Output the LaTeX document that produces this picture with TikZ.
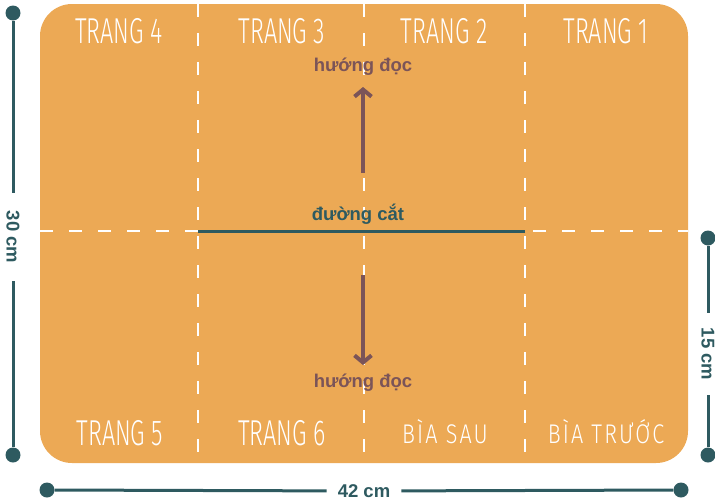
\documentclass[tikz,border=0pt]{standalone}
\usepackage{fontspec}
\setmainfont{Liberation Sans}
\newfontfamily\hand[FakeStretch=0.65, UprightFont={* Light}]{Fira Sans}
\newfontfamily\handw[FakeStretch=0.8, LetterSpace=8, UprightFont={* Light}]{Fira Sans}
\usetikzlibrary{arrows.meta}
\definecolor{paper}{HTML}{ECA955}
\definecolor{dimc}{HTML}{2E5A60}
\definecolor{mauve}{HTML}{7B5458}
\begin{document}
\begin{tikzpicture}[x=1pt,y=-1pt,
  fold/.style={white, line width=2.6pt, dash pattern=on 13pt off 16pt},
  cutline/.style={dimc, line width=3pt},
  readarrow/.style={mauve, line width=4pt, -{Straight Barb[length=7pt,width=17pt]}},
  boldtxt/.style={font=\fontsize{18.5}{20}\selectfont\bfseries, inner sep=0pt},
  page/.style={white, font=\fontsize{36}{38}\selectfont\hand, inner sep=0pt},
  cover/.style={white, font=\fontsize{27}{29}\selectfont\handw, inner sep=0pt},
  dim/.style={dimc, line width=3pt},
  dot/.style={circle, fill=dimc, inner sep=0pt, minimum size=15pt},
  dimtxt/.style={dimc, font=\fontsize{18.5}{20}\selectfont\bfseries, inner ysep=0pt}
]
\useasboundingbox (0,0) rectangle (715,501);
\fill[paper, rounded corners=32pt] (40,4) rectangle (688,463);

% fold lines
\coordinate (v1t) at (198,4);   \coordinate (v1b) at (198,463);
\coordinate (v2t) at (364,4);   \coordinate (v2b) at (364,463);
\coordinate (v3t) at (525,4);   \coordinate (v3b) at (525,463);
\coordinate (hl) at (40,231);   \coordinate (hr) at (688,231);
\draw[fold] (v1t) -- (v1b);
\draw[fold] (v2t) -- (v2b);
\draw[fold] (v3t) -- (v3b);
\draw[fold] (hl) -- (hr);

% cut line
\coordinate (c1) at (198,231); \coordinate (c2) at (525,231);
\draw[cutline] (c1) -- (c2);
\node[boldtxt, dimc, anchor=base] (cut) at (358,220) {đường cắt};

% reading direction
\node[boldtxt, mauve] (h1) at (363,67) {hướng đọc};
\node[boldtxt, mauve] (h2) at (363,383) {hướng đọc};
\coordinate (a1s) at (363,173); \coordinate (a1e) at (363,87);
\coordinate (a2s) at (363,275); \coordinate (a2e) at (363,365);
\draw[readarrow] (a1s) -- (a1e);
\draw[readarrow] (a2s) -- (a2e);

% page labels
\node[page] (p4) at (119,31) {TRANG 4};
\node[page] (p3) at (282,31) {TRANG 3};
\node[page] (p2) at (444,31) {TRANG 2};
\node[page] (p1) at (606,31) {TRANG 1};
\node[page] (p5) at (120,433) {TRANG 5};
\node[page] (p6) at (282,433) {TRANG 6};
\node[cover] (bs) at (445,432) {BÌA SAU};
\node[cover] (bt) at (606,432) {BÌA TRƯỚC};

% dimensions
\node[dot] (l1) at (13,13) {};
\node[dot] (l2) at (13,455) {};
\node[dimtxt, rotate=-90, inner xsep=18pt] (lt) at (13,237) {30 cm};
\draw[dim] (l1) -- (lt);
\draw[dim] (lt) -- (l2);

\node[dot] (r1) at (708,238) {};
\node[dot] (r2) at (708,455) {};
\node[dimtxt, rotate=-90, inner xsep=15pt] (rt) at (708,354) {15 cm};
\draw[dim] (r1) -- (rt);
\draw[dim] (rt) -- (r2);

\node[dot] (b1) at (47,490) {};
\node[dot] (b2) at (681,490) {};
\node[dimtxt, inner xsep=11pt] (bt2) at (364,491) {42 cm};
\draw[dim] (b1) -- (bt2);
\draw[dim] (bt2) -- (b2);
\end{tikzpicture}
\end{document}
